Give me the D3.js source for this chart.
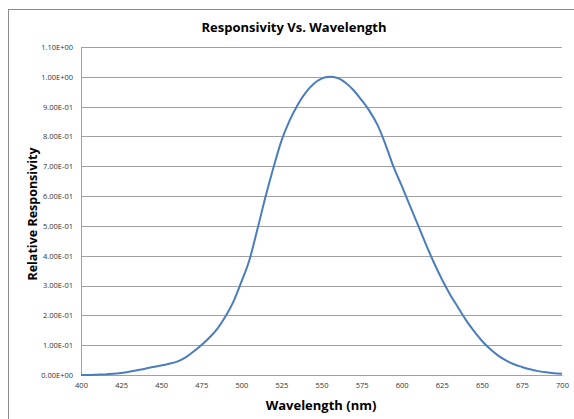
<!DOCTYPE html>
<html>
<head>
<meta charset="utf-8">
<script src="https://cdn.jsdelivr.net/npm/d3@7"></script>
<style>
  body { margin: 0; background: #fff; }
  text { font-family: "Open Sans", "Liberation Sans", sans-serif; }
</style>
</head>
<body>
<div id="chart"></div>
<script>
// Datos
const wavelengths = [400, 405, 410, 415, 420, 425, 430, 435, 440, 445, 450, 455, 460, 465, 470, 475,
  480, 485, 490, 495, 500, 505, 510, 515, 520, 525, 530, 535, 540, 545, 550, 555, 560, 565, 570,
  575, 580, 585, 590, 595, 600, 605, 610, 615, 620, 625, 630, 635, 640, 645, 650, 655, 660, 665,
  670, 675, 680, 685, 690, 695, 700];
const responsivity = [0.000, 0.000, 0.001, 0.002, 0.004, 0.007, 0.011, 0.016, 0.021, 0.027, 0.032,
  0.038, 0.045, 0.058, 0.078, 0.100, 0.125, 0.155, 0.195, 0.245, 0.312, 0.385, 0.488, 0.596, 0.695,
  0.785, 0.852, 0.905, 0.946, 0.976, 0.994, 1.000, 0.996, 0.980, 0.955, 0.922, 0.885, 0.838, 0.772,
  0.697, 0.635, 0.570, 0.505, 0.440, 0.378, 0.322, 0.272, 0.228, 0.185, 0.148, 0.115, 0.088, 0.066,
  0.049, 0.036, 0.027, 0.019, 0.013, 0.009, 0.006, 0.004];
const xTicks = [400, 425, 450, 475, 500, 525, 550, 575, 600, 625, 650, 675, 700];
const yTicks = [0, 0.1, 0.2, 0.3, 0.4, 0.5, 0.6, 0.7, 0.8, 0.9, 1.0, 1.1];
const yTickLabels = ["0.00E+00", "1.00E-01", "2.00E-01", "3.00E-01", "4.00E-01", "5.00E-01",
  "6.00E-01", "7.00E-01", "8.00E-01", "9.00E-01", "1.00E+00", "1.10E+00"];

const data = wavelengths.map((w, i) => ({ w: w, v: responsivity[i] }));

const W = 574, H = 419;
const margin = { top: 47, right: 12, bottom: 44, left: 81 };
const width = W - margin.left - margin.right;
const height = H - margin.top - margin.bottom;

const svg = d3.select("#chart").append("svg")
  .attr("width", W).attr("height", H);

// Marco del gráfico
svg.append("rect")
  .attr("x", 8.5).attr("y", 9.5)
  .attr("width", W).attr("height", H)
  .attr("fill", "none").attr("stroke", "#8c8c8c").attr("stroke-width", 1);

const g = svg.append("g").attr("transform", `translate(${margin.left},${margin.top})`);

const x = d3.scaleLinear().domain([400, 700]).range([0, width]);
const y = d3.scaleLinear().domain([0, 1.1]).range([height, 0]);

// Líneas de cuadrícula
g.selectAll(".grid").data(yTicks).enter().append("line")
  .attr("x1", 0).attr("x2", width)
  .attr("y1", d => Math.round(y(d)) + 0.5).attr("y2", d => Math.round(y(d)) + 0.5)
  .attr("stroke", "#a0a0a0").attr("stroke-width", 1);

// Eje Y
const yAxis = g.append("g")
  .call(d3.axisLeft(y).tickValues(yTicks).tickSize(0).tickPadding(8)
    .tickFormat((d, i) => yTickLabels[i]));
yAxis.select(".domain").attr("stroke", "#a0a0a0");
yAxis.selectAll("text").attr("font-size", 7.5).attr("fill", "#333");

// Eje X
const xAxis = g.append("g")
  .attr("transform", `translate(0,${height})`)
  .call(d3.axisBottom(x).tickValues(xTicks).tickSize(0).tickPadding(8));
xAxis.select(".domain").attr("stroke", "#a0a0a0");
xAxis.selectAll("text").attr("font-size", 7.5).attr("fill", "#333");

// Curva
const line = d3.line().x(d => x(d.w)).y(d => y(d.v)).curve(d3.curveMonotoneX);
g.append("path").datum(data)
  .attr("d", line)
  .attr("fill", "none")
  .attr("stroke", "#4a7ebb")
  .attr("stroke-width", 2);

// Títulos
svg.append("text")
  .attr("x", 294).attr("y", 32)
  .attr("text-anchor", "middle")
  .attr("font-size", 13).attr("font-weight", "bold")
  .text("Responsivity Vs. Wavelength");

svg.append("text")
  .attr("x", 321).attr("y", 410)
  .attr("text-anchor", "middle")
  .attr("font-size", 13).attr("font-weight", "bold")
  .text("Wavelength (nm)");

svg.append("text")
  .attr("transform", "translate(37,214) rotate(-90)")
  .attr("text-anchor", "middle")
  .attr("font-size", 12.5).attr("font-weight", "bold")
  .text("Relative Responsivity");
</script>
</body>
</html>
